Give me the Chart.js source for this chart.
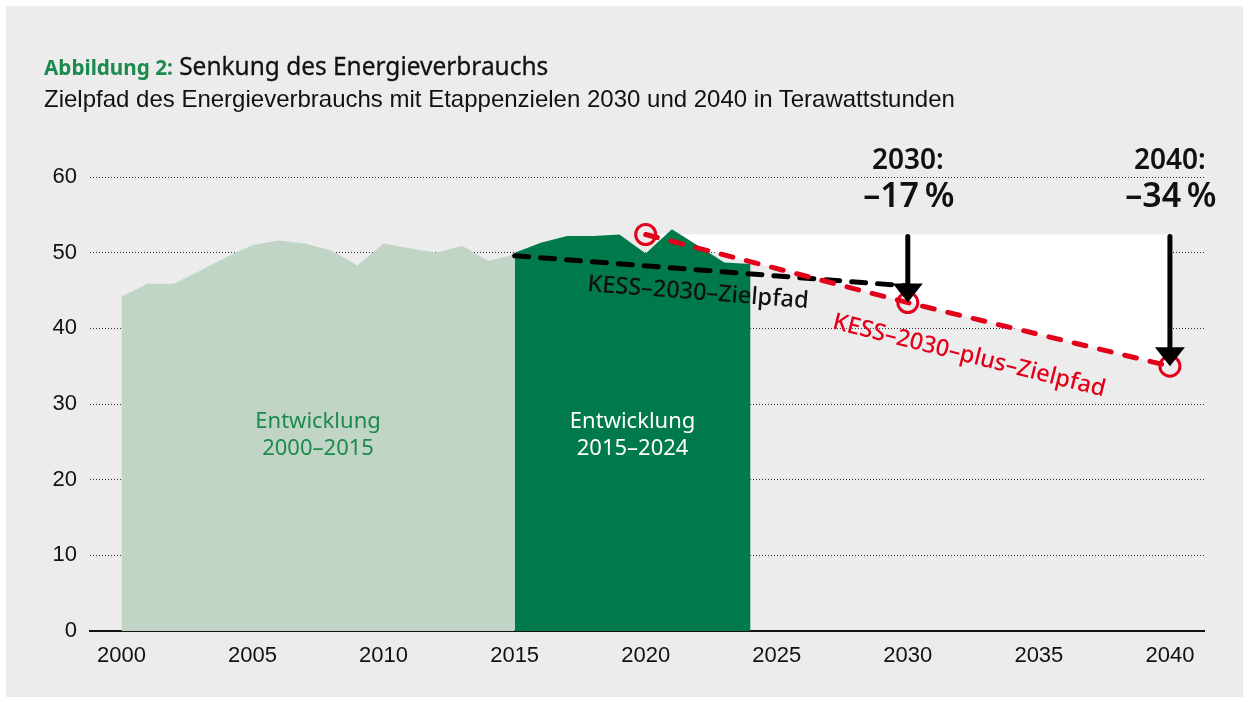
<!DOCTYPE html>
<html lang="de">
<head>
<meta charset="utf-8">
<script src="https://cdn.jsdelivr.net/npm/chart.js@4.4.1/dist/chart.umd.min.js"></script>
<style>
  html, body { margin:0; padding:0; background:#ffffff; width:1249px; height:702px; overflow:hidden; }
  #panel { position:absolute; left:6px; top:6px; width:1237px; height:691px; background:#ececec; }
  #chart { position:absolute; left:0; top:0; }
  #title { position:absolute; left:44px; top:47px; font-family:"Noto Sans", sans-serif; font-size:26px; color:#111; white-space:nowrap; z-index:2; transform:scaleX(0.94); transform-origin:0 0; -webkit-text-stroke:0.3px #111; }
  #title .g { color:#1b8a4c; font-weight:700; font-size:22px; -webkit-text-stroke:0; }
  #sub { position:absolute; left:44px; top:85px; font-family:"Liberation Sans", Arial, sans-serif; font-size:24px; color:#111; white-space:nowrap; z-index:2; }
</style>
</head>
<body>
<div id="panel"></div>
<div id="title"><span class="g">Abbildung 2:</span> Senkung des Energieverbrauchs</div>
<div id="sub">Zielpfad des Energieverbrauchs mit Etappenzielen 2030 und 2040 in Terawattstunden</div>
<canvas id="chart" width="1249" height="702"></canvas>
<script>
// ---- data (TWh) ----
const yearsA = [2000,2001,2002,2003,2004,2005,2006,2007,2008,2009,2010,2011,2012,2013,2014,2015];
const valuesA = [44.2,45.9,45.9,47.6,49.4,51.0,51.6,51.2,50.3,48.3,51.2,50.6,50.0,50.9,48.9,49.8];
const yearsB = [2015,2016,2017,2018,2019,2020,2021,2022,2023,2024];
const valuesB = [50.0,51.3,52.2,52.2,52.4,49.9,53.1,50.9,48.7,48.5];
const kessYears = [2015,2030];
const kessValues = [49.6,45.6];
const plusYears = [2020,2030,2040];
const plusValues = [52.4,43.4,35.0];
const topYears = [2020,2040];
const topValues = [52.4,52.4];
const arrowYears = [2030,2040];
const arrowFrom = [52.4,52.4];
const arrowTo = [43.4,35.0];
const targetTitles = ['2030:','2040:'];
const targetChanges = ['\u201317\u2009%','\u201334\u2009%'];
const xTicks = [2000,2005,2010,2015,2020,2025,2030,2035,2040];
const yTicks = [0,10,20,30,40,50,60];
const areaLabelYears = [2007.5,2019.5];
const areaLabelLines = [['Entwicklung','2000\u20132015'],['Entwicklung','2015\u20132024']];
const kessLabel = 'KESS\u20132030\u2013Zielpfad';
const plusLabel = 'KESS\u20132030\u2013plus\u2013Zielpfad';

const pts = (xs, ys) => xs.map((x, i) => ({x: x, y: ys[i]}));

const RED = '#e2001a';
const LIGHT = '#c0d5c6';
const DARK = '#007a4a';
const LABEL_GREEN = '#1b8a4c';

const annotations = {
  id: 'annotations',
  afterDatasetsDraw(chart) {
    const {ctx, scales: {x, y}, chartArea} = chart;
    ctx.save();
    // arrows
    arrowYears.forEach((yr, i) => {
      const px = x.getPixelForValue(yr);
      const y0 = y.getPixelForValue(arrowFrom[i]);
      const y1 = y.getPixelForValue(arrowTo[i]);
      ctx.strokeStyle = '#000';
      ctx.lineWidth = 5;
      ctx.lineCap = 'round';
      ctx.setLineDash([]);
      ctx.beginPath();
      ctx.moveTo(px, y0 + 2);
      ctx.lineTo(px, y1 - 14);
      ctx.stroke();
      ctx.fillStyle = '#000';
      ctx.beginPath();
      ctx.moveTo(px - 15, y1 - 19);
      ctx.lineTo(px + 15, y1 - 19);
      ctx.lineTo(px, y1);
      ctx.closePath();
      ctx.fill();
    });
    // target texts
    ctx.textAlign = 'center';
    ctx.textBaseline = 'middle';
    ctx.fillStyle = '#111';
    targetTitles.forEach((t, i) => {
      const px = x.getPixelForValue(arrowYears[i]);
      ctx.font = '600 28px "Noto Sans", sans-serif';
      ctx.fillText(t, px, chartArea.top - 16);
      ctx.font = '600 34px "Noto Sans", sans-serif';
      ctx.fillText(targetChanges[i], px + 1, chartArea.top + 20);
    });
    // area labels
    ctx.font = '22px "Noto Sans", sans-serif';
    areaLabelYears.forEach((yr, i) => {
      const px = x.getPixelForValue(yr);
      ctx.fillStyle = i === 0 ? LABEL_GREEN : '#ffffff';
      ctx.fillText(areaLabelLines[i][0], px, y.getPixelForValue(27.7));
      ctx.fillText(areaLabelLines[i][1], px, y.getPixelForValue(24.1));
    });
    // path labels (rotated along their lines)
    const drawAlong = (text, xs, ys, atYear, offsetPx, color) => {
      const x0 = x.getPixelForValue(xs[0]), y0 = y.getPixelForValue(ys[0]);
      const x1 = x.getPixelForValue(xs[xs.length-1]), y1 = y.getPixelForValue(ys[ys.length-1]);
      const ang = Math.atan2(y1 - y0, x1 - x0);
      const px = x.getPixelForValue(atYear);
      const t = (px - x0) / (x1 - x0);
      const py = y0 + t * (y1 - y0);
      ctx.save();
      ctx.translate(px - Math.sin(ang) * offsetPx, py + Math.cos(ang) * offsetPx);
      ctx.rotate(ang);
      ctx.fillStyle = color;
      ctx.font = '500 23.5px "Noto Sans", sans-serif';
      ctx.textAlign = 'center';
      ctx.textBaseline = 'middle';
      ctx.fillText(text, 0, 0);
      ctx.restore();
    };
    drawAlong(kessLabel, kessYears, kessValues, 2022.06, 23, '#111');
    drawAlong(plusLabel, plusYears, plusValues, 2032.7, 39, RED);
    ctx.restore();
  }
};

new Chart(document.getElementById('chart'), {
  type: 'line',
  data: {
    datasets: [
      { // KESS-2030-plus-Zielpfad (top)
        data: pts(plusYears, plusValues),
        borderColor: RED, borderWidth: 5, borderDash: [12, 14], borderCapStyle: 'round',
        fill: false, tension: 0,
        pointRadius: 10, pointBorderWidth: 3, pointBorderColor: RED,
        pointBackgroundColor: 'rgba(0,0,0,0)', pointHoverRadius: 10
      },
      { // KESS-2030-Zielpfad
        data: pts(kessYears, kessValues),
        borderColor: '#000', borderWidth: 5, borderDash: [14, 12], borderCapStyle: 'round',
        fill: false, pointRadius: 0, tension: 0
      },
      { // Entwicklung 2015-2024
        data: pts(yearsB, valuesB),
        borderColor: 'rgba(0,0,0,0)', borderWidth: 0, backgroundColor: DARK,
        fill: 'origin', pointRadius: 0, tension: 0
      },
      { // Entwicklung 2000-2015
        data: pts(yearsA, valuesA),
        borderColor: 'rgba(0,0,0,0)', borderWidth: 0, backgroundColor: LIGHT,
        fill: 'origin', pointRadius: 0, tension: 0
      },
      { // white band above the plus path
        data: pts(topYears, topValues),
        borderColor: 'rgba(0,0,0,0)', borderWidth: 0,
        fill: { target: 0, above: '#ffffff', below: 'rgba(0,0,0,0)' },
        pointRadius: 0, tension: 0
      }
    ]
  },
  options: {
    responsive: false,
    devicePixelRatio: 1,
    animation: false,
    layout: { padding: { left: 0, right: 45, top: 177, bottom: 0 } },
    plugins: { legend: { display: false }, tooltip: { enabled: false }, title: { display: false } },
    events: [],
    scales: {
      x: {
        type: 'linear',
        min: 1998.8, max: 2041.3,
        afterBuildTicks: (s) => { s.ticks = xTicks.map(v => ({ value: v })); },
        afterFit: (s) => { s.height = 71; },
        grid: { display: false, drawTicks: false },
        border: { display: true, color: '#111', width: 2 },
        ticks: {
          padding: 12, autoSkip: false, maxRotation: 0,
          color: '#111',
          font: { family: '"Liberation Sans", Arial, sans-serif', size: 22 },
          callback: (v) => String(v)
        }
      },
      y: {
        min: 0, max: 60,
        afterBuildTicks: (s) => { s.ticks = yTicks.map(v => ({ value: v })); },
        afterFit: (s) => { s.width = 90; },
        grid: { color: '#333', lineWidth: 1, drawTicks: false },
        border: { display: false, dash: [1, 2] },
        ticks: {
          padding: 13, color: '#111',
          font: { family: '"Liberation Sans", Arial, sans-serif', size: 22 },
          callback: (v) => String(v)
        }
      }
    }
  },
  plugins: [annotations]
});
</script>
</body>
</html>
